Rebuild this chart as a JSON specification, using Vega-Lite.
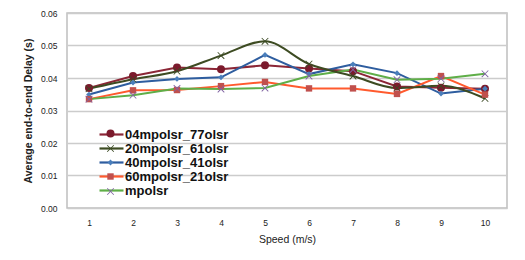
{
  "$schema": "https://vega.github.io/schema/vega-lite/v6.json",
  "width": 440,
  "height": 195,
  "autosize": {"type": "none"},
  "padding": {"left": 67, "top": 13, "right": 18, "bottom": 52},
  "background": "white",
  "config": {
    "font": "Liberation Sans",
    "view": {"stroke": "#bfbfbf", "strokeWidth": 1.5},
    "axis": {"labelFont": "Liberation Sans", "titleFont": "Liberation Sans", "labelColor": "#222", "titleColor": "#222"}
  },
  "data": {
    "values": [
      {"speed": 1, "series": "04mpolsr_77olsr", "delay": 0.0369},
      {"speed": 2, "series": "04mpolsr_77olsr", "delay": 0.0406},
      {"speed": 3, "series": "04mpolsr_77olsr", "delay": 0.0432},
      {"speed": 4, "series": "04mpolsr_77olsr", "delay": 0.0427},
      {"speed": 5, "series": "04mpolsr_77olsr", "delay": 0.0439},
      {"speed": 6, "series": "04mpolsr_77olsr", "delay": 0.0429},
      {"speed": 7, "series": "04mpolsr_77olsr", "delay": 0.0421},
      {"speed": 8, "series": "04mpolsr_77olsr", "delay": 0.0374},
      {"speed": 9, "series": "04mpolsr_77olsr", "delay": 0.0370},
      {"speed": 10, "series": "04mpolsr_77olsr", "delay": 0.0367},
      {"speed": 1, "series": "20mpolsr_61olsr", "delay": 0.0367},
      {"speed": 2, "series": "20mpolsr_61olsr", "delay": 0.0396},
      {"speed": 3, "series": "20mpolsr_61olsr", "delay": 0.0421},
      {"speed": 4, "series": "20mpolsr_61olsr", "delay": 0.0469},
      {"speed": 5, "series": "20mpolsr_61olsr", "delay": 0.0513},
      {"speed": 6, "series": "20mpolsr_61olsr", "delay": 0.0443},
      {"speed": 7, "series": "20mpolsr_61olsr", "delay": 0.0406},
      {"speed": 8, "series": "20mpolsr_61olsr", "delay": 0.0369},
      {"speed": 9, "series": "20mpolsr_61olsr", "delay": 0.0376},
      {"speed": 10, "series": "20mpolsr_61olsr", "delay": 0.0337},
      {"speed": 1, "series": "40mpolsr_41olsr", "delay": 0.0349},
      {"speed": 2, "series": "40mpolsr_41olsr", "delay": 0.0386},
      {"speed": 3, "series": "40mpolsr_41olsr", "delay": 0.0397},
      {"speed": 4, "series": "40mpolsr_41olsr", "delay": 0.0402},
      {"speed": 5, "series": "40mpolsr_41olsr", "delay": 0.0471},
      {"speed": 6, "series": "40mpolsr_41olsr", "delay": 0.0412},
      {"speed": 7, "series": "40mpolsr_41olsr", "delay": 0.0442},
      {"speed": 8, "series": "40mpolsr_41olsr", "delay": 0.0415},
      {"speed": 9, "series": "40mpolsr_41olsr", "delay": 0.0352},
      {"speed": 10, "series": "40mpolsr_41olsr", "delay": 0.0367},
      {"speed": 1, "series": "60mpolsr_21olsr", "delay": 0.0335},
      {"speed": 2, "series": "60mpolsr_21olsr", "delay": 0.0362},
      {"speed": 3, "series": "60mpolsr_21olsr", "delay": 0.0363},
      {"speed": 4, "series": "60mpolsr_21olsr", "delay": 0.0375},
      {"speed": 5, "series": "60mpolsr_21olsr", "delay": 0.0388},
      {"speed": 6, "series": "60mpolsr_21olsr", "delay": 0.0368},
      {"speed": 7, "series": "60mpolsr_21olsr", "delay": 0.0368},
      {"speed": 8, "series": "60mpolsr_21olsr", "delay": 0.0351},
      {"speed": 9, "series": "60mpolsr_21olsr", "delay": 0.0406},
      {"speed": 10, "series": "60mpolsr_21olsr", "delay": 0.0349},
      {"speed": 1, "series": "mpolsr", "delay": 0.0335},
      {"speed": 2, "series": "mpolsr", "delay": 0.0347},
      {"speed": 3, "series": "mpolsr", "delay": 0.0368},
      {"speed": 4, "series": "mpolsr", "delay": 0.0366},
      {"speed": 5, "series": "mpolsr", "delay": 0.0369},
      {"speed": 6, "series": "mpolsr", "delay": 0.0406},
      {"speed": 7, "series": "mpolsr", "delay": 0.0426},
      {"speed": 8, "series": "mpolsr", "delay": 0.0395},
      {"speed": 9, "series": "mpolsr", "delay": 0.0398},
      {"speed": 10, "series": "mpolsr", "delay": 0.0413}
    ]
  },
  "encoding": {
    "x": {
      "field": "speed", "type": "ordinal",
      "scale": {"type": "point", "padding": 0.5},
      "axis": {"title": "Speed (m/s)", "labelAngle": 0, "ticks": false, "domain": false, "grid": false,
               "labelFontSize": 8.5, "labelPadding": 10, "titleFontSize": 10.5, "titleFontWeight": "normal", "titlePadding": 8}
    },
    "y": {
      "field": "delay", "type": "quantitative",
      "scale": {"domain": [0, 0.06], "nice": false},
      "axis": {"title": "Average end-to-end Delay (s)", "values": [0, 0.01, 0.02, 0.03, 0.04, 0.05, 0.06], "format": ".2f",
               "ticks": false, "domain": false, "grid": true, "gridColor": "#cccccc", "gridWidth": 1.5,
               "labelFontSize": 8.5, "labelPadding": 10, "titleFontSize": 10.5, "titleFontWeight": "bold", "titlePadding": 7}
    }
  },
  "layer": [
    {
      "transform": [{"filter": "datum.series != '20mpolsr_61olsr'"}],
      "mark": {"type": "line", "strokeWidth": 2},
      "encoding": {
        "color": {
          "field": "series", "type": "nominal",
          "scale": {"domain": ["04mpolsr_77olsr", "20mpolsr_61olsr", "40mpolsr_41olsr", "60mpolsr_21olsr", "mpolsr"],
                    "range": ["#8B2636", "#3D4B22", "#2E5D9F", "#FF5A2E", "#5FAE48"]},
          "legend": {"title": null, "orient": "none", "legendX": 38, "legendY": 115,
                     "symbolType": "M-3,0L3,0", "symbolSize": 64, "symbolStrokeWidth": 2.2, "symbolFillColor": "transparent",
                     "labelFontSize": 13, "labelFontWeight": "bold", "labelFont": "Liberation Sans", "labelColor": "#111",
                     "labelOffset": 7, "rowPadding": 0, "padding": 0}
        }
      }
    },
    {
      "transform": [{"filter": "datum.series == '20mpolsr_61olsr'"}],
      "mark": {"type": "line", "strokeWidth": 2, "interpolate": "monotone"},
      "encoding": {
        "color": {"field": "series", "type": "nominal"}
      }
    },
    {
      "mark": {"type": "point", "filled": true, "opacity": 1, "size": 64},
      "encoding": {
        "fill": {
          "field": "series", "type": "nominal",
          "scale": {"range": ["#7B1A2C", "#3B4A23", "#4A7EBB", "#C0504D", "#8064A2"]},
          "legend": {"title": null, "orient": "bottom-left", "offset": 9, "symbolOffset": 28,
                     "symbolSize": 64, "labelFontSize": 13, "labelFontWeight": "bold", "labelColor": "transparent",
                     "labelOffset": 7, "rowPadding": 0, "padding": 0}
        },
        "shape": {
          "field": "series", "type": "nominal",
          "scale": {"range": ["circle", "M-0.9,-0.75L-0.75,-0.9L0,-0.15L0.75,-0.9L0.9,-0.75L0.15,0L0.9,0.75L0.75,0.9L0,0.15L-0.75,0.9L-0.9,0.75L-0.15,0Z", "M0,-0.72L0.72,0L0,0.72L-0.72,0Z", "M-0.8,-0.8L0.8,-0.8L0.8,0.8L-0.8,0.8Z", "M-0.9,-0.75L-0.75,-0.9L0,-0.15L0.75,-0.9L0.9,-0.75L0.15,0L0.9,0.75L0.75,0.9L0,0.15L-0.75,0.9L-0.9,0.75L-0.15,0Z"]}
        }
      }
    }
  ]
}
